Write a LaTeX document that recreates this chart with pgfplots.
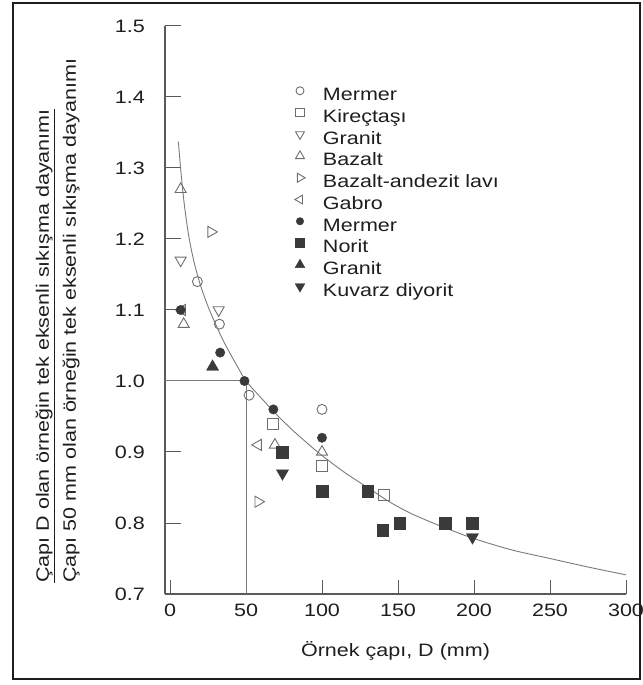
\documentclass[border=0pt]{standalone}
\usepackage{pgfplots}
\pgfplotsset{compat=1.18}
\usepackage{fontspec}
\setmainfont[FakeStretch=1.2]{Liberation Sans}
\definecolor{txt}{HTML}{1E1E1E}
\definecolor{opm}{HTML}{6E6E6E}
\definecolor{flm}{HTML}{3A3A3A}
\definecolor{crv}{HTML}{7A7A7A}
\definecolor{axc}{HTML}{5A5A5A}
\begin{document}
\begin{tikzpicture}[font=\fontsize{18}{21}\selectfont]
\begin{axis}[name=ax, at={(0,0)}, anchor=south west,
  scale only axis, width=461bp, height=568bp,
  xmin=-3.3, xmax=300, ymin=0.7, ymax=1.5,
  axis x line=bottom, axis y line=left,
  axis line style={-, axc, line width=1.1bp},
  tick align=inside, tick style={axc, line width=1bp},
  xtick={50,100,150,200,250,300},
  extra x ticks={0}, extra x tick style={/pgfplots/major tick length=0pt},
  ytick={0.7,0.8,0.9,1.0,1.1,1.2,1.3,1.4,1.5},
  xtick style={/pgfplots/major tick length=14bp},
  ytick style={/pgfplots/major tick length=16bp},
  /pgf/number format/assume math mode=true,
  ticklabel style={text=txt},
  yticklabel style={/pgf/number format/.cd, fixed, fixed zerofill, precision=1, /tikz/.cd, inner sep=0pt, xshift=-20bp},
  xticklabel style={inner sep=0pt, yshift=-10bp},
  xlabel={Örnek çapı, D (mm)},
  xlabel style={at={(rel axis cs:0.5,0)}, anchor=center, yshift=-57bp, text=txt},
  clip=false,
  legend cell align=left,
  legend style={draw=none, fill=none, at={(rel axis cs:0.2798,0.8974)}, anchor=north west,
    inner sep=0pt, outer sep=0pt, row sep=0pt, text=txt,
    nodes={inner sep=0pt, text height=12bp, text depth=5.5bp},
    /tikz/every odd column/.append style={column sep=17bp}},
  legend image code/.code={\draw[#1, /tikz/every mark/.append style={scale=0.8}] plot coordinates {(6bp,6.5bp)}; \path[draw=none, fill=none] (0bp,0bp) rectangle (12bp,13bp);},
]
% reference lines
\addplot[forget plot, crv, line width=1bp] coordinates {(-3.3,1.0) (50,1.0) (50,0.7)};
% size effect curve
\addplot[forget plot, crv, line width=0.9bp, smooth] coordinates {
(5.5,1.337) (7,1.299) (9,1.256) (11,1.223) (13,1.196) (16,1.166) (20,1.135) (25,1.105) (30,1.080) (35,1.057)
(40,1.037) (45,1.018) (50,1.000) (60,0.976) (70,0.953) (80,0.932) (90,0.913) (100,0.895) (115,0.871)
(130,0.850) (145,0.829) (160,0.812) (180,0.794) (200,0.778) (225,0.762) (250,0.750) (275,0.738) (300,0.727)};
% open markers
\addplot[only marks, mark=o, mark size=5bp, opm, line width=0.9bp, mark options={fill=white}] coordinates {(18,1.14) (32.5,1.08) (52,0.98) (100,0.96)};
\addlegendentry{Mermer}
\addplot[only marks, mark=square, mark size=5.5bp, opm, line width=0.9bp, mark options={fill=white}] coordinates {(68,0.94) (100,0.88) (141,0.84)};
\addlegendentry{Kireçtaşı}
\addplot[only marks, mark=triangle, mark size=6.4bp, opm, line width=0.9bp, mark options={rotate=180, fill=white}] coordinates {(7,1.17) (32,1.10)};
\addlegendentry{Granit}
\addplot[only marks, mark=triangle, mark size=6.4bp, opm, line width=0.9bp, mark options={fill=white}] coordinates {(7,1.27) (9,1.08) (69,0.91) (100,0.90)};
\addlegendentry{Bazalt}
\addplot[only marks, mark=triangle, mark size=6.4bp, opm, line width=0.9bp, mark options={rotate=-90, fill=white}] coordinates {(27,1.21) (58,0.83)};
\addlegendentry{Bazalt-andezit lavı}
\addplot[only marks, mark=triangle, mark size=6.4bp, opm, line width=0.9bp, mark options={rotate=90, fill=white}] coordinates {(8,1.10) (58,0.91)};
\addlegendentry{Gabro}
% filled markers
\addplot[only marks, mark=*, mark size=4.7bp, flm, mark options={fill=flm, draw=flm}] coordinates {(7,1.10) (33,1.04) (49,1.00) (68,0.96) (100,0.92)};
\addlegendentry{Mermer}
\addplot[only marks, mark=square*, mark size=5.8bp, flm, mark options={fill=flm, draw=flm}] coordinates {(74,0.90) (100,0.845) (130,0.845) (140,0.79) (151,0.80) (181,0.80) (199,0.80)};
\addlegendentry{Norit}
\addplot[only marks, mark=triangle*, mark size=7bp, flm, mark options={fill=flm, draw=flm}] coordinates {(28,1.02)};
\addlegendentry{Granit}
\addplot[only marks, mark=triangle*, mark size=7bp, flm, mark options={rotate=180, fill=flm, draw=flm}] coordinates {(74,0.87) (199,0.78)};
\addlegendentry{Kuvarz diyorit}
\end{axis}
\node[rotate=90, anchor=base west, inner sep=0pt, text=txt] at ([shift={(-116bp,11bp)}]ax.south west) {\underline{Çapı D olan örneğin tek eksenli sıkışma dayanımı}};
\node[rotate=90, anchor=base west, inner sep=0pt, text=txt] at ([shift={(-89bp,11bp)}]ax.south west) {Çapı 50 mm olan örneğin tek eksenli sıkışma dayanımı};
\draw[line width=2.5bp, txt] ([shift={(-152bp,-85bp)}]ax.south west) rectangle ([shift={(475bp,591bp)}]ax.south west);
\pgfresetboundingbox
\path[use as bounding box] ([shift={(-165bp,-91bp)}]ax.south west) rectangle ([shift={(478bp,594bp)}]ax.south west);
\end{tikzpicture}
\end{document}
